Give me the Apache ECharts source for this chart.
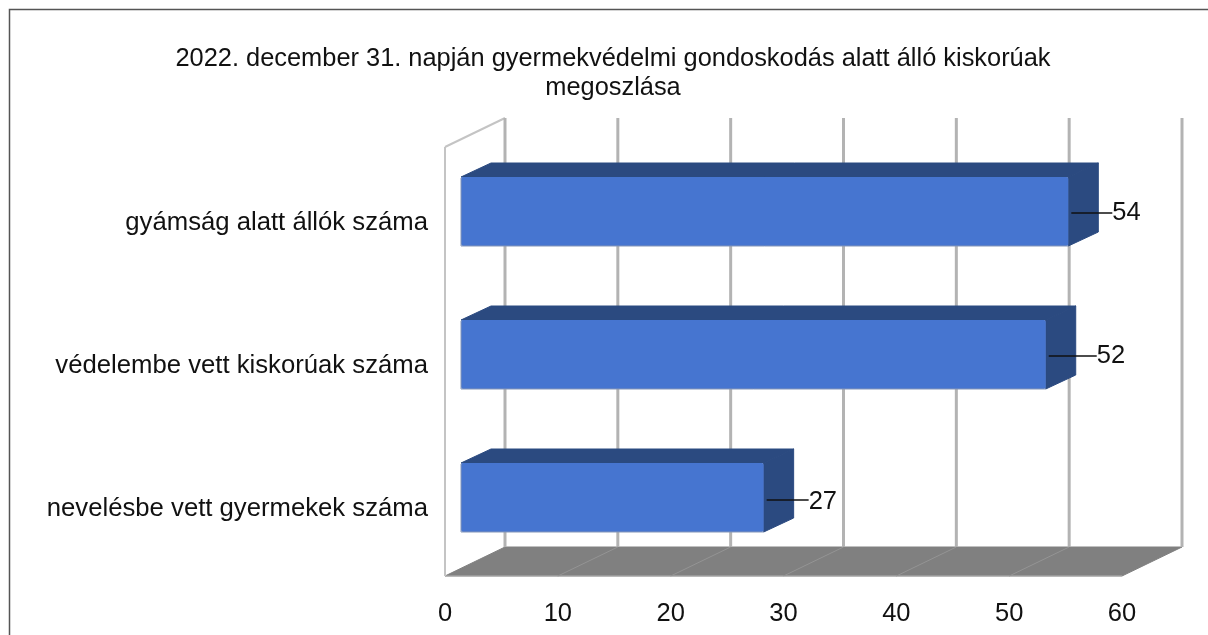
<!DOCTYPE html>
<html>
<head>
<meta charset="utf-8">
<title>Kiskorúak megoszlása</title>
<script src="https://cdn.jsdelivr.net/npm/echarts@6/dist/echarts.min.js"></script>
<style>
html, body { margin: 0; padding: 0; background: #fff; overflow: hidden; }
#chart { width: 1208px; height: 635px; }
</style>
</head>
<body>
<div id="chart"></div>
<script>
var titleText = '2022. december 31. napján gyermekvédelmi gondoskodás alatt álló kiskorúak\nmegoszlása';
// kategoriak alulrol felfele
var categories = ['nevelésbe vett gyermekek száma', 'védelembe vett kiskorúak száma', 'gyámság alatt állók száma'];
var values = [27, 52, 54];
var ticks = [0, 10, 20, 30, 40, 50, 60];

var fontName = '"Liberation Sans", Arial, sans-serif';
var textColor = '#111';
var wallColor = '#b3b3b3';

// terbeli eltolas: a hatso fal es a hasab helye
var backDx = 60, backDy = -29;
var barDx = 16, barDy = -7;
var depthDx = 30, depthDy = -14;
var barHeight = 69;

// a vezetovonal hossza es helye kategoriankent mas
var leaderLen = [42, 48, 41];
var leaderDy = [2.5, 1.5, 1.5];
var labelDy = [4, 1, 1];

function poly(points, fill) {
    return { type: 'polygon', shape: { points: points }, style: { fill: fill, stroke: fill, lineWidth: 1, lineJoin: 'round' } };
}

function line(x1, y1, x2, y2, color, width) {
    return { type: 'line', shape: { x1: x1, y1: y1, x2: x2, y2: y2 }, style: { stroke: color, lineWidth: width } };
}

// padlo es oldalfal, az elso tick-nel egyszer
function renderFloor(params, api) {
    var sys = params.coordSys;
    var l = sys.x, r = sys.x + sys.width, t = sys.y, b = sys.y + sys.height;
    return {
        type: 'group',
        children: [
            poly([[l, b], [r, b], [r + backDx, b + backDy], [l + backDx, b + backDy]], '#808080'),
            line(l, b, r, b, wallColor, 1),
            line(l, t, l, b, '#c4c4c4', 2),
            line(l, t, l + backDx, t + backDy, '#c4c4c4', 2)
        ]
    };
}

// racsvonal a hatso falon + a padlon
function renderGrid(params, api) {
    var sys = params.coordSys;
    var t = sys.y, b = sys.y + sys.height;
    var x = api.coord([api.value(0), 0])[0];
    var children = [
        line(x + backDx, t + backDy, x + backDx, b + backDy, wallColor, 3)
    ];
    if (api.value(0) > 0 && api.value(0) < 60) {
        children.push(line(x, b, x + backDx, b + backDy, '#949494', 1));
    }
    return { type: 'group', children: children };
}

function renderBar(params, api) {
    var sys = params.coordSys;
    var idx = params.dataIndex;
    var pt = api.coord([api.value(0), api.value(1)]);
    var x0 = sys.x + barDx;
    var x1 = pt[0] + barDx - 2;
    var cy = pt[1] + barDy;
    var y0 = cy - barHeight / 2, y1 = cy + barHeight / 2;
    var dark = '#2b4a80';
    var leaderEnd = x1 + 3 + leaderLen[idx];
    return {
        type: 'group',
        children: [
            poly([[x0, y0], [x0 + depthDx, y0 + depthDy], [x1 + depthDx, y0 + depthDy], [x1, y0]], dark),
            poly([[x1, y0], [x1 + depthDx, y0 + depthDy], [x1 + depthDx, y1 + depthDy], [x1, y1]], dark),
            {
                type: 'rect',
                shape: { x: x0, y: y0, width: x1 - x0, height: y1 - y0, r: 2 },
                style: { fill: '#4675d0' }
            },
            {
                type: 'polyline',
                shape: { points: [[x0, y0 + 1], [x0, y1], [x1, y1]] },
                style: { fill: 'none', stroke: '#8496b8', lineWidth: 1 }
            },
            line(x1 + 3, cy + leaderDy[idx], leaderEnd, cy + leaderDy[idx], '#111', 1.5),
            {
                type: 'text',
                style: {
                    x: leaderEnd, y: cy + labelDy[idx], text: String(api.value(0)),
                    font: '25.5px ' + fontName, fill: textColor, align: 'left', verticalAlign: 'middle'
                }
            }
        ]
    };
}

var barData = values.map(function (v, i) { return [v, i]; });
var tickData = ticks.map(function (t) { return [t, 0]; });

var myChart = echarts.init(document.getElementById('chart'), null, { renderer: 'canvas' });
var option = {
    animation: false,
    backgroundColor: '#fff',
    title: {
        text: titleText,
        left: 608,
        top: 39,
        textAlign: 'center',
        textStyle: { fontFamily: fontName, fontSize: 25.4, fontWeight: 'normal', color: textColor, lineHeight: 29 }
    },
    // a keret jobb oldala nem latszik a kepen
    graphic: [{
        type: 'polyline',
        shape: { points: [[1208, 9.5], [9.5, 9.5], [9.5, 635]] },
        style: { fill: 'none', stroke: '#555', lineWidth: 1.5 },
        silent: true
    }],
    grid: { left: 445, right: 86, top: 147, bottom: 59 },
    xAxis: {
        type: 'value',
        min: 0,
        max: 60,
        interval: 10,
        axisLine: { show: false },
        axisTick: { show: false },
        splitLine: { show: false },
        axisLabel: { margin: 25, color: textColor, fontFamily: fontName, fontSize: 25.5 }
    },
    yAxis: {
        type: 'category',
        data: categories,
        axisLine: { show: false },
        axisTick: { show: false },
        splitLine: { show: false },
        axisLabel: { margin: 17, color: textColor, fontFamily: fontName, fontSize: 25.7, verticalAlign: 'top', lineHeight: 8 }
    },
    series: [
        { type: 'custom', renderItem: renderFloor, data: [[0, 0]], silent: true, clip: false, z: 1 },
        { type: 'custom', renderItem: renderGrid, data: tickData, silent: true, clip: false, z: 2 },
        { type: 'custom', renderItem: renderBar, data: barData, encode: { x: 0, y: 1 }, silent: true, clip: false, z: 3 }
    ]
};
myChart.setOption(option);
</script>
</body>
</html>
